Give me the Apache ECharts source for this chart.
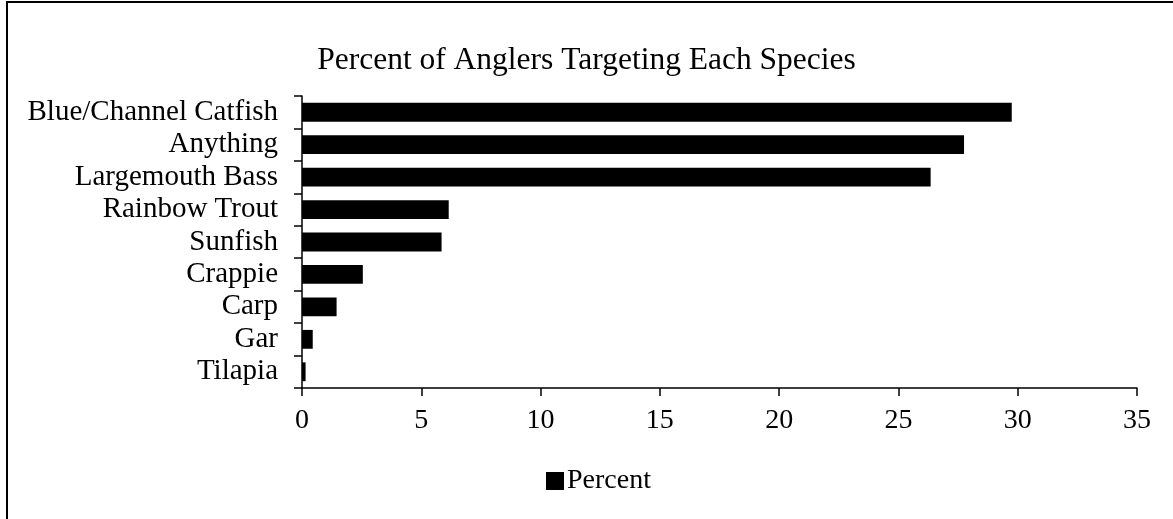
<!DOCTYPE html>
<html>
<head>
<meta charset="utf-8">
<script src="https://cdn.jsdelivr.net/npm/echarts@6/dist/echarts.min.js"></script>
<style>
html, body { margin: 0; padding: 0; background: #fff; }
#main { width: 1173px; height: 519px; }
</style>
</head>
<body>
<div id="main"></div>
<script>
// species, top to bottom
var species = ['Blue/Channel Catfish', 'Anything', 'Largemouth Bass', 'Rainbow Trout', 'Sunfish', 'Crappie', 'Carp', 'Gar', 'Tilapia'];
// percent of anglers
var percentArr = [29.75, 27.75, 26.35, 6.15, 5.85, 2.55, 1.45, 0.45, 0.15];
var xTicks = [0, 5, 10, 15, 20, 25, 30, 35];

var serif = '"Liberation Serif", "Times New Roman", serif';

var chart = echarts.init(document.getElementById('main'));
var option = {
    animation: false,
    backgroundColor: '#fff',
    title: {
        text: 'Percent of Anglers Targeting Each Species',
        left: 'center',
        top: 40,
        textStyle: { fontFamily: serif, fontSize: 31.5, fontWeight: 'normal', color: '#000' }
    },
    legend: {
        data: ['Percent'],
        left: 541,
        top: 462,
        icon: 'rect',
        itemWidth: 18,
        itemHeight: 18,
        itemGap: 4,
        textStyle: { fontFamily: serif, fontSize: 28, color: '#000', padding: [0, 0, 0, -2] }
    },
    grid: { left: 302, right: 36, top: 96, bottom: 131 },
    xAxis: {
        type: 'value',
        min: xTicks[0],
        max: xTicks[xTicks.length - 1],
        interval: 5,
        splitLine: { show: false },
        axisLine: { show: true, lineStyle: { color: '#000', width: 1.5 } },
        axisTick: { show: true, length: 8, lineStyle: { color: '#000', width: 1.5 } },
        axisLabel: { fontFamily: serif, fontSize: 28, color: '#000', margin: 19 }
    },
    yAxis: {
        type: 'category',
        inverse: true,
        data: species,
        axisLine: { show: true, lineStyle: { color: '#000', width: 1.5 } },
        axisTick: { show: true, length: 8, lineStyle: { color: '#000', width: 1.5 } },
        axisLabel: { fontFamily: serif, fontSize: 29, color: '#000', margin: 24, interval: 0 }
    },
    series: [
        {
            name: 'Percent',
            type: 'bar',
            data: percentArr,
            barCategoryGap: '42%',
            itemStyle: { color: '#000' }
        }
    ],
    graphic: [
        {
            type: 'rect',
            shape: { x: 7, y: 2, width: 1300, height: 700 },
            style: { fill: 'none', stroke: '#000', lineWidth: 2 },
            silent: true
        }
    ]
};
chart.setOption(option);
</script>
</body>
</html>
